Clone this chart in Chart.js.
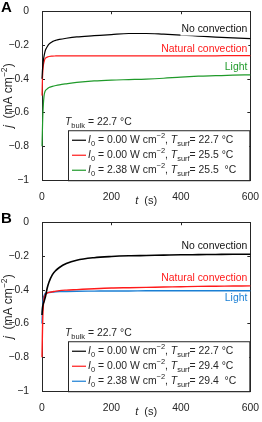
<!DOCTYPE html>
<html>
<head>
<meta charset="utf-8">
<script src="https://cdn.jsdelivr.net/npm/chart.js@4.4.1/dist/chart.umd.min.js"></script>
<style>
  html, body { margin: 0; padding: 0; background: #fff; }
  .panel { position: absolute; left: 0; width: 262px; height: 211px; }
  #boxA { top: 0; }
  #boxB { top: 211px; }
</style>
</head>
<body>
<div class="panel" id="boxA"><canvas id="chartA" width="262" height="211"></canvas></div>
<div class="panel" id="boxB"><canvas id="chartB" width="262" height="211"></canvas></div>
<script>
// time samples (s)
const times = [0, 1, 2, 4, 6, 8, 10, 15, 20, 30, 40, 50, 70, 100, 150, 200, 250, 300, 350, 400, 450, 500, 550, 600];

// panel A current density (mA cm^-2)
const noConvA = [-0.40, -0.36, -0.33, -0.29, -0.265, -0.245, -0.23, -0.21, -0.195, -0.18, -0.172, -0.167, -0.16, -0.152, -0.145, -0.138, -0.132, -0.132, -0.136, -0.141, -0.147, -0.153, -0.158, -0.162];
const natConvA = [-0.50, -0.42, -0.37, -0.32, -0.30, -0.285, -0.278, -0.272, -0.268, -0.266, -0.265, -0.264, -0.264, -0.264, -0.264, -0.264, -0.264, -0.264, -0.264, -0.264, -0.264, -0.264, -0.263, -0.263];
const lightA = [-0.80, -0.72, -0.64, -0.55, -0.50, -0.48, -0.47, -0.46, -0.452, -0.445, -0.44, -0.436, -0.43, -0.422, -0.413, -0.408, -0.405, -0.402, -0.397, -0.39, -0.385, -0.382, -0.379, -0.377];

// panel B current density (mA cm^-2)
const noConvB = [-0.55, -0.52, -0.50, -0.48, -0.47, -0.455, -0.44, -0.39, -0.355, -0.31, -0.285, -0.268, -0.245, -0.225, -0.21, -0.203, -0.199, -0.197, -0.195, -0.193, -0.192, -0.191, -0.19, -0.19];
const natConvB = [-0.80, -0.68, -0.58, -0.49, -0.45, -0.435, -0.428, -0.42, -0.416, -0.412, -0.408, -0.405, -0.402, -0.399, -0.394, -0.39, -0.388, -0.386, -0.384, -0.382, -0.38, -0.379, -0.378, -0.377];
const lightB = [-0.60, -0.54, -0.49, -0.45, -0.435, -0.425, -0.42, -0.418, -0.416, -0.414, -0.412, -0.411, -0.41, -0.409, -0.408, -0.407, -0.407, -0.406, -0.406, -0.406, -0.406, -0.406, -0.406, -0.406];

const xTicks = [0, 200, 400, 600];
const yTicks = [0, -0.2, -0.4, -0.6, -0.8, -1];

const seriesNames = ['No convection', 'Natural convection', 'Light'];
const surfTempsA = ['22.7', '25.5', '25.5'];
const surfTempsB = ['22.7', '29.4', '29.4'];
const intensities = ['0.00', '0.00', '2.38'];
const bulkTemp = '22.7';

const FONT = '"Liberation Sans", Arial, Helvetica, sans-serif';
const TXT = '#262626';

// draw a run of text pieces: {t, i (italic), sub, sup}
function drawRich(ctx, x, y, segs, size, color) {
  let cx = x;
  segs.forEach(s => {
    const sz = (s.sub || s.sup) ? size * 0.72 : size;
    ctx.font = (s.i ? 'italic ' : '') + sz + 'px ' + FONT;
    ctx.fillStyle = color || TXT;
    let dy = 0;
    if (s.sub) dy = size * 0.32;
    if (s.sup) dy = -size * 0.38;
    ctx.fillText(s.t, cx, y + dy);
    cx += ctx.measureText(s.t).width;
  });
  return cx - x;
}

function richWidth(ctx, segs, size) {
  let w = 0;
  segs.forEach(s => {
    const sz = (s.sub || s.sup) ? size * 0.72 : size;
    ctx.font = (s.i ? 'italic ' : '') + sz + 'px ' + FONT;
    w += ctx.measureText(s.t).width;
  });
  return w;
}

const minus = v => (v < 0 ? '\u2212' : '') + Math.abs(v);

function makePanel(canvasId, letter, series, colors, widths, surfTemps, labelYs) {
  const decor = {
    id: 'decor',
    beforeDatasetsDraw(chart) {
      // axes box and inward ticks, under the curves
      const ctx = chart.ctx;
      const a = chart.chartArea;
      const xs = chart.scales.x, ys = chart.scales.y;
      ctx.save();
      ctx.strokeStyle = TXT;
      ctx.lineWidth = 1;
      ctx.strokeRect(Math.round(a.left) + 0.5, Math.round(a.top) + 0.5, Math.round(a.width), Math.round(a.height));
      ctx.beginPath();
      xTicks.forEach(v => {
        const px = Math.round(xs.getPixelForValue(v)) + 0.5;
        ctx.moveTo(px, a.bottom); ctx.lineTo(px, a.bottom - 3);
        ctx.moveTo(px, a.top); ctx.lineTo(px, a.top + 3);
      });
      yTicks.forEach(v => {
        const py = Math.round(ys.getPixelForValue(v)) + 0.5;
        ctx.moveTo(a.left, py); ctx.lineTo(a.left + 3, py);
        ctx.moveTo(a.right, py); ctx.lineTo(a.right - 3, py);
      });
      ctx.stroke();
      ctx.restore();
    },
    afterDraw(chart) {
      const ctx = chart.ctx;
      const a = chart.chartArea;
      const ys = chart.scales.y;
      ctx.save();
      ctx.textBaseline = 'middle';

      // series labels with white backing
      seriesNames.forEach((name, k) => {
        ctx.font = '10.4px ' + FONT;
        const w = ctx.measureText(name).width;
        const yy = ys.getPixelForValue(labelYs[k]);
        const xr = a.right - 3;
        ctx.fillStyle = '#fff';
        ctx.fillRect(xr - w - 1, yy - 6, w + 2, 12);
        ctx.fillStyle = k === 0 ? '#111' : colors[k];
        ctx.textAlign = 'right';
        ctx.fillText(name, xr, yy);
      });
      ctx.textAlign = 'left';

      // panel letter
      ctx.font = 'bold 15px ' + FONT;
      ctx.fillStyle = '#000';
      ctx.fillText(letter, 1, 8);

      // axis titles
      const xt = [{t: 't', i: true}, {t: '  (s)'}];
      const xw = richWidth(ctx, xt, 11);
      drawRich(ctx, (a.left + a.right) / 2 - xw / 2, a.bottom + 21, xt, 11);
      const yt = [{t: 'j', i: true}, {t: '  (mA cm'}, {t: '\u22122', sup: true}, {t: ')'}];
      ctx.save();
      ctx.translate(9, (a.top + a.bottom) / 2);
      ctx.rotate(-Math.PI / 2);
      const yw = richWidth(ctx, yt, 12);
      drawRich(ctx, -yw / 2, 0, yt, 12);
      ctx.restore();

      // T_bulk note
      drawRich(ctx, a.left + 23, a.top + 111, [{t: 'T', i: true}, {t: 'bulk', sub: true}, {t: ' = ' + bulkTemp + ' \u00b0C'}], 10.4);

      // legend box
      const lx = a.left + 26, ly = a.top + 119, lw = a.right - 1 - lx, lh = 50;
      ctx.fillStyle = '#fff';
      ctx.fillRect(lx, ly, lw, lh);
      ctx.strokeStyle = '#262626';
      ctx.lineWidth = 1;
      ctx.strokeRect(lx + 0.5, ly + 0.5, lw, lh);
      for (let k = 0; k < 3; k++) {
        const ry = ly + 10 + k * 15;
        ctx.strokeStyle = colors[k];
        ctx.lineWidth = 1.2;
        ctx.beginPath();
        ctx.moveTo(lx + 4, ry); ctx.lineTo(lx + 18, ry);
        ctx.stroke();
        const gap = k === 2 ? '  ' : ' ';
        drawRich(ctx, lx + 20, ry, [
          {t: 'I', i: true}, {t: '0', sub: true},
          {t: ' = ' + intensities[k] + ' W cm'}, {t: '\u22122', sup: true},
          {t: ', '}, {t: 'T', i: true}, {t: 'surf', sub: true},
          {t: '= ' + surfTemps[k] + gap + '\u00b0C'}
        ], 10.4);
      }
      ctx.restore();
    }
  };

  return new Chart(document.getElementById(canvasId), {
    type: 'line',
    data: {
      datasets: series.map((vals, k) => ({
        data: times.map((t, i) => ({x: t, y: vals[i]})),
        borderColor: colors[k],
        borderWidth: widths[k],
        pointRadius: 0,
        cubicInterpolationMode: 'monotone',
        fill: false,
        clip: 2
      }))
    },
    options: {
      responsive: false,
      animation: false,
      layout: {padding: {top: 5, right: 11, left: 0, bottom: 0}},
      plugins: {legend: {display: false}, tooltip: {enabled: false}},
      scales: {
        x: {
          type: 'linear', min: 0, max: 600,
          afterBuildTicks: s => { s.ticks = xTicks.map(v => ({value: v})); },
          afterFit: s => { s.height = 31; },
          grid: {display: false},
          border: {display: false},
          ticks: {color: TXT, font: {family: FONT, size: 10.4}, padding: 3, maxRotation: 0}
        },
        y: {
          min: -1, max: 0,
          afterBuildTicks: s => { s.ticks = yTicks.map(v => ({value: v})); },
          afterFit: s => { s.width = 42; },
          grid: {display: false},
          border: {display: false},
          ticks: {color: TXT, font: {family: FONT, size: 10.4}, padding: 5, callback: v => minus(v)}
        }
      }
    },
    plugins: [decor]
  });
}

makePanel('chartA', 'A', [noConvA, natConvA, lightA], ['#000000', '#ff1a1a', '#1f9a2a'], [1.2, 1.2, 1.2], surfTempsA, [-0.109, -0.223, -0.331]);
makePanel('chartB', 'B', [noConvB, natConvB, lightB], ['#000000', '#ff1a1a', '#1a7fd4'], [1.6, 1.4, 1.4], surfTempsB, [-0.143, -0.333, -0.451]);
</script>
</body>
</html>
